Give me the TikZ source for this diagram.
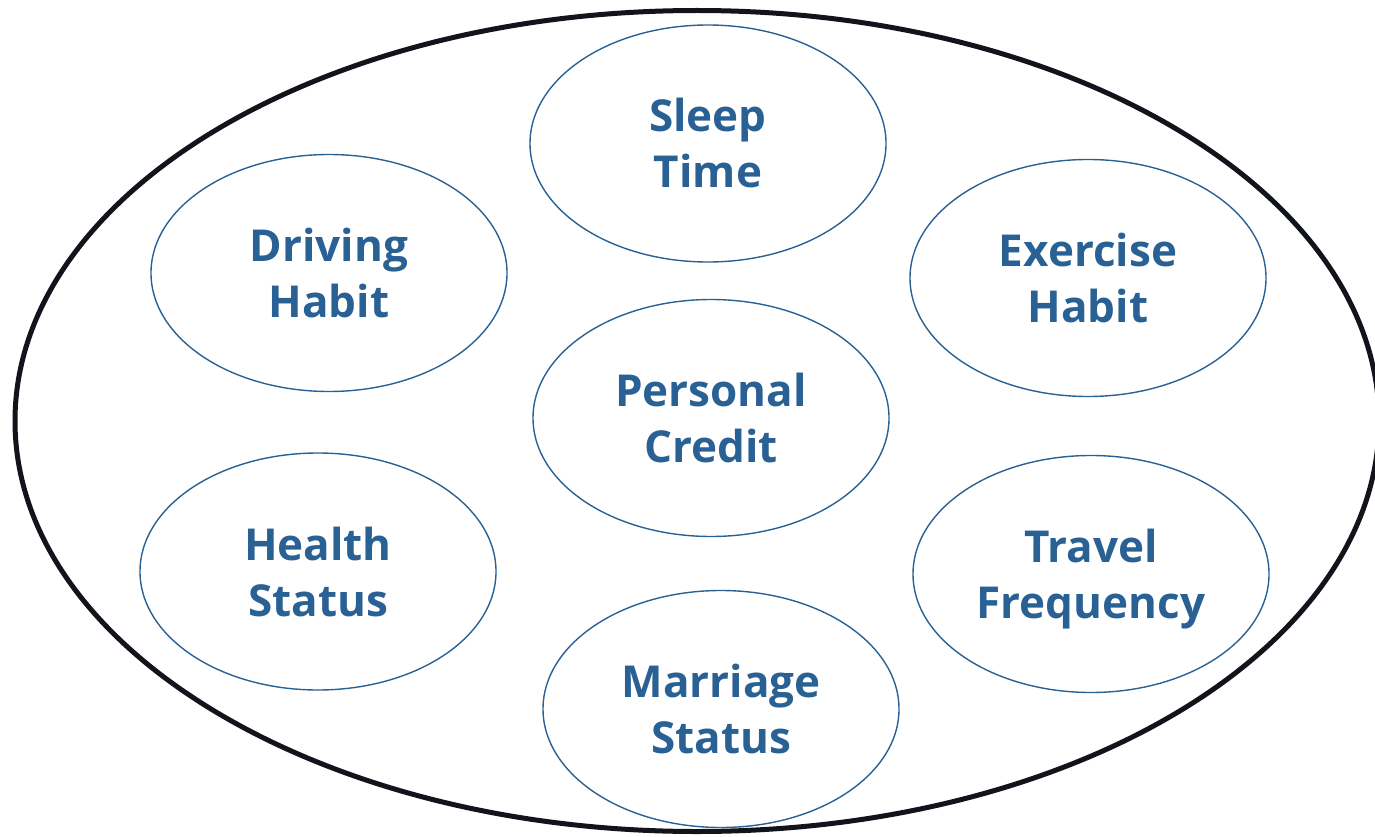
\documentclass[tikz,border=0pt]{standalone}
\usepackage{fontspec}
\setmainfont{Open Sans}
\usetikzlibrary{shapes.geometric}
\definecolor{ablue}{RGB}{42,97,148}
\definecolor{oblack}{RGB}{18,20,28}
\tikzset{
  item/.style={draw=ablue, line width=1.4pt, ellipse, minimum width=356pt, minimum height=237pt, inner sep=0pt,
    text=ablue, font=\fontsize{44}{56}\selectfont\bfseries, align=center},
  outerring/.style={draw=oblack, line width=5pt, ellipse, minimum width=1364pt, minimum height=821pt, inner sep=0pt}
}
\begin{document}
\begin{tikzpicture}[x=1pt,y=-1pt]
\useasboundingbox (0,0) rectangle (1375,837);
\node[outerring] (outer) at (697,421) {};
\node[item] (sleep) at (708,143.5) {Sleep\\Time};
\node[item] (driving) at (329,273) {Driving\\Habit};
\node[item] (exercise) at (1088,278) {Exercise\\Habit};
\node[item] (credit) at (711,418) {Personal\\Credit};
\node[item] (health) at (318,571.5) {Health\\Status};
\node[item] (travel) at (1091,574) {Travel\\\smash{Frequency}};
\node[item] (marriage) at (721,709) {Marriage\\Status};
\end{tikzpicture}
\end{document}
